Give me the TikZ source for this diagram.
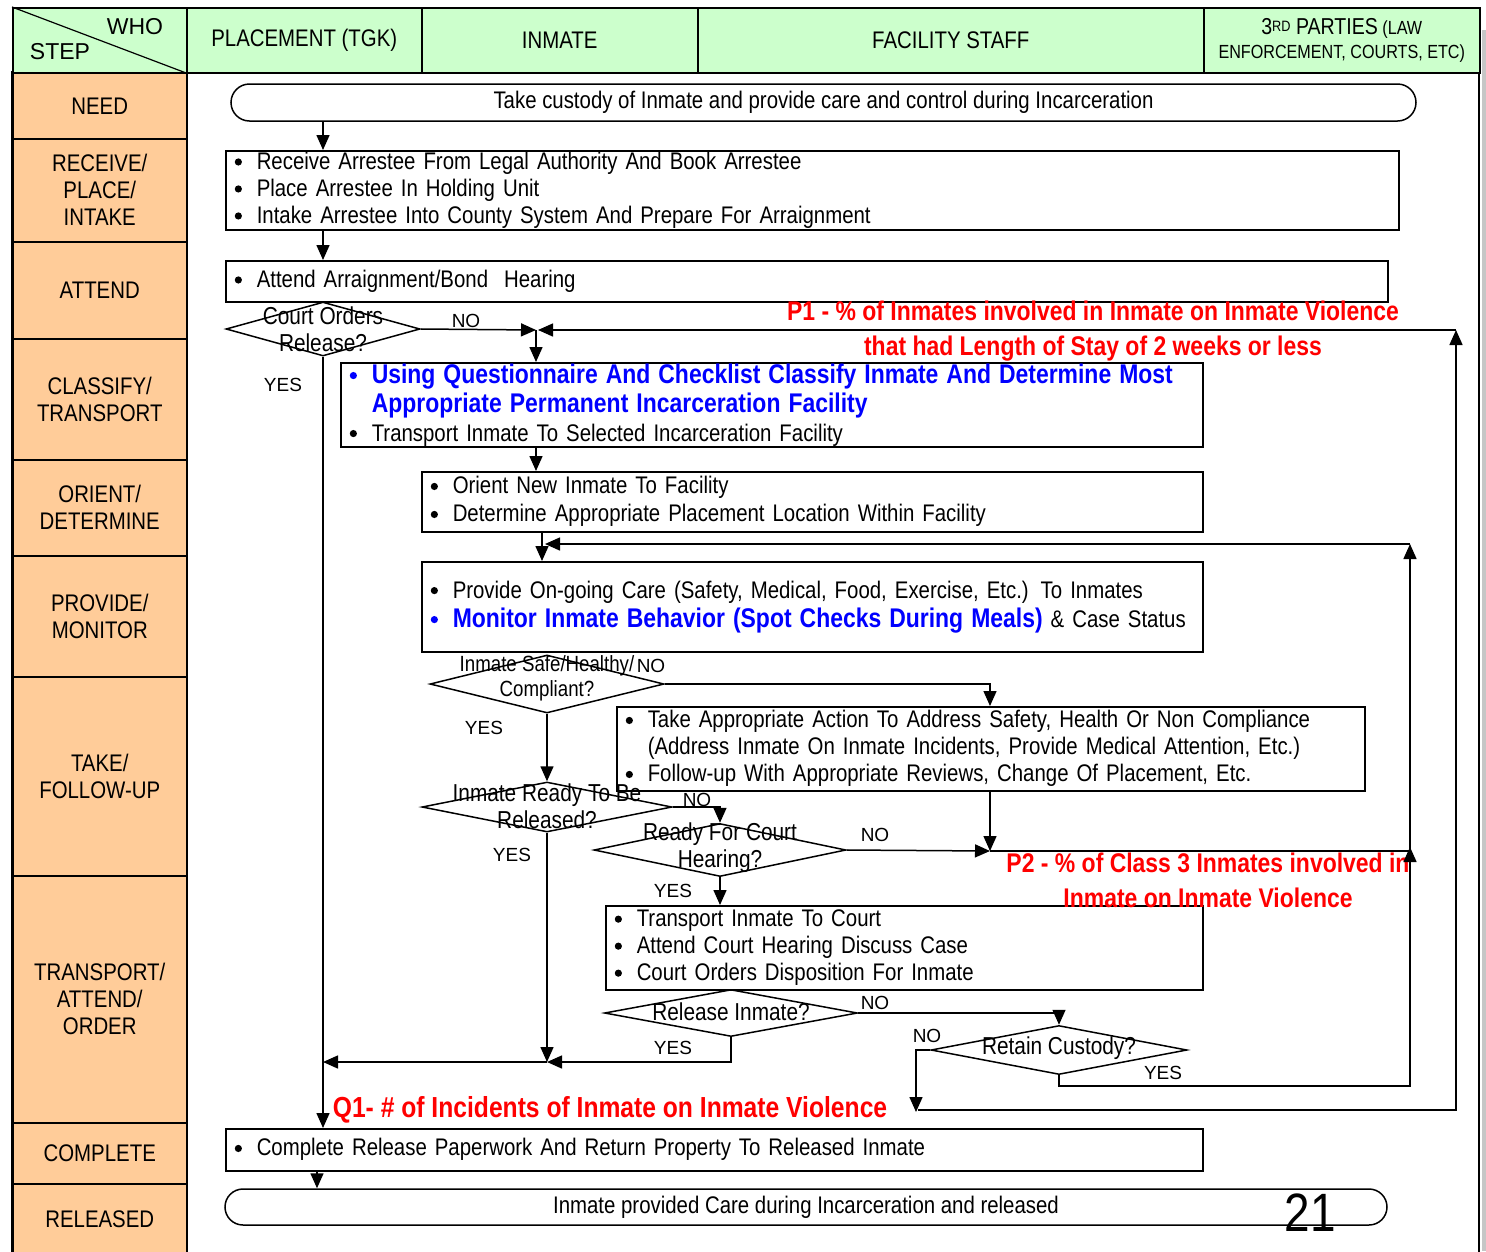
\documentclass[tikz,border=0pt]{standalone}
\usepackage{fontspec}
\setmainfont{Liberation Sans}[FakeStretch=0.85]
\newfontfamily\plainsf{Liberation Sans}
\usetikzlibrary{shapes.geometric, shapes.misc, arrows.meta, positioning}
\definecolor{hdrgreen}{HTML}{CCFFCC}
\definecolor{steporange}{HTML}{FFCC99}
\definecolor{pmred}{HTML}{FF0000}
\definecolor{pmblue}{HTML}{0000FF}
\tikzset{>={Triangle[length=15pt,width=13pt]}}
\newcommand{\bitem}{\makebox[22pt][l]{\tikz[baseline=-7.5pt]\fill (0,0) circle (3.6pt);}}
\newcommand{\bskip}{\hspace*{22pt}}
\newcommand{\txtsize}{\fontsize{24}{27}\selectfont}
\newcommand{\kpisize}{\fontsize{27}{35}\selectfont\bfseries}
\tikzset{
  hdrcell/.style={draw, line width=1.5pt, fill=hdrgreen, minimum height=65, anchor=north west, inner sep=0pt, align=center, font=\fontsize{24}{26}\selectfont},
  stepcell/.style={draw, line width=1.5pt, fill=steporange, minimum width=174, anchor=north west, inner sep=0pt, align=center, font=\fontsize{24}{27}\selectfont},
  taskbox/.style n args={2}{draw, line width=1.5pt, anchor=north west, inner xsep=9pt, inner ysep=0pt, align=left, font=\txtsize, minimum width=#1, text width={#1pt-18pt}, minimum height=#2},
  endcap/.style={draw, line width=1.5pt, rounded rectangle, inner sep=0pt, font=\txtsize},
  decide/.style={draw, line width=1.5pt, diamond, inner sep=0pt},
  dtext/.style={align=center, inner sep=0pt, font=\fontsize{24.5}{27}\selectfont},
  yesno/.style={inner sep=0pt, font=\plainsf\fontsize{19}{19}\selectfont},
  kpi/.style={inner sep=0pt, align=center, text=pmred, font=\kpisize},
  flow/.style={line width=1.5pt}
}

\begin{document}
\begin{tikzpicture}[x=1pt, y=-1pt]
	\useasboundingbox (0,0) rectangle (1486,1251);
	% frame and shadow
	\fill[gray!45] (1482,30) rectangle (1486,1251);
	\draw[line width=1.5pt] (12,72) rectangle (1479,1262);
	% header row
	\node[hdrcell, minimum width=174] (corner) at (12,7) {};
	\draw[line width=1.2pt] (corner.north west) -- (corner.south east);
	\node[inner sep=0pt, font=\plainsf\fontsize{23}{23}\selectfont] (who) at (135,27) {WHO};
	\node[inner sep=0pt, font=\plainsf\fontsize{23}{23}\selectfont] (step) at (60,52) {STEP};
	\node[hdrcell, minimum width=235] (hplace) at (186,7) {PLACEMENT (TGK)};
	\node[hdrcell, minimum width=276] (hinmate) at (421,7) {INMATE};
	\node[hdrcell, minimum width=506] (hstaff) at (697,7) {FACILITY STAFF};
	\node[hdrcell, minimum width=276, font=\fontsize{19}{24}\selectfont] (hthird) at (1203,7) {{\fontsize{23}{24}\selectfont 3{\fontsize{15}{15}\selectfont\raisebox{3pt}{RD}} PARTIES} (LAW\\ENFORCEMENT, COURTS, ETC)};
	% step column
	\node[stepcell, minimum height=66] (sneed) at (12,72) {NEED};
	\node[stepcell, minimum height=103] (sreceive) at (12,138) {RECEIVE/\\PLACE/\\INTAKE};
	\node[stepcell, minimum height=97] (sattend) at (12,241) {ATTEND};
	\node[stepcell, minimum height=121] (sclassify) at (12,338) {CLASSIFY/\\TRANSPORT};
	\node[stepcell, minimum height=96] (sorient) at (12,459) {ORIENT/\\DETERMINE};
	\node[stepcell, minimum height=121] (sprovide) at (12,555) {PROVIDE/\\MONITOR};
	\node[stepcell, minimum height=199] (stake) at (12,676) {TAKE/\\FOLLOW-UP};
	\node[stepcell, minimum height=247] (stransport) at (12,875) {TRANSPORT/\\ATTEND/\\ORDER};
	\node[stepcell, minimum height=61] (scomplete) at (12,1122) {COMPLETE};
	\node[stepcell, minimum height=70] (sreleased) at (12,1183) {RELEASED};
	% tasks
	\node[endcap, minimum width=1185, minimum height=37] (start) at (823.5,102.5) {Take custody of Inmate and provide care and control during Incarceration};
	\node[taskbox={1173}{79}] (recv) at (225,150) {\bitem Receive Arrestee From Legal Authority And Book Arrestee\\\bitem Place Arrestee In Holding Unit\\\bitem Intake Arrestee Into County System And Prepare For Arraignment};
	\node[taskbox={1162}{41}] (attend) at (225,260) {\bitem Attend Arraignment/Bond\ \ Hearing};
	\node[decide, minimum width=194, minimum height=54] (cor) at (323,329) {};
	\node[dtext] (cor-t) at (cor.center) {Court Orders\\Release?};
	\node[taskbox={862}{84}, font=\fontsize{24}{29}\selectfont] (cls) at (340,362) {{\color{pmblue}\fontsize{27}{29}\selectfont\bfseries\bitem Using Questionnaire And Checklist Classify Inmate And Determine Most\\\bskip Appropriate Permanent Incarceration Facility}\\\bitem Transport Inmate To Selected Incarceration Facility};
	\node[taskbox={781}{60}, font=\fontsize{24}{28}\selectfont] (orient) at (421,471) {\bitem Orient New Inmate To Facility\\\bitem Determine Appropriate Placement Location Within Facility};
	\node[taskbox={781}{90}, font=\fontsize{24}{29}\selectfont] (prov) at (421,561) {\bitem Provide On-going Care (Safety, Medical, Food, Exercise, Etc.) To Inmates\\{\color{pmblue}\fontsize{27}{29}\selectfont\bfseries\bitem Monitor Inmate Behavior (Spot Checks During Meals)} \& Case Status};
	\node[decide, minimum width=234, minimum height=58] (safe) at (547,684) {};
	\node[dtext, font=\fontsize{22}{25}\selectfont] (safe-t) at (547,678) {Inmate Safe/Healthy/\\Compliant?};
	\node[taskbox={748}{84}] (take) at (616,706) {\bitem Take Appropriate Action To Address Safety, Health Or Non Compliance\\\bskip (Address Inmate On Inmate Incidents, Provide Medical Attention, Etc.)\\\bitem Follow-up With Appropriate Reviews, Change Of Placement, Etc.};
	\node[decide, minimum width=250, minimum height=50] (rdy) at (547,807) {};
	\node[dtext] (rdy-t) at (547,806) {Inmate Ready To Be\\Released?};
	\node[decide, minimum width=252, minimum height=53] (court) at (720,850) {};
	\node[dtext] (court-t) at (720,848) {Ready For Court\\Hearing?};
	\node[taskbox={597}{84}] (trans) at (605,905) {\bitem Transport Inmate To Court\\\bitem Attend Court Hearing Discuss Case\\\bitem Court Orders Disposition For Inmate};
	\node[decide, minimum width=253, minimum height=47] (rel) at (731,1013) {};
	\node[dtext] (rel-t) at (731,1012) {Release Inmate?};
	\node[decide, minimum width=256, minimum height=49] (retain) at (1059,1050) {};
	\node[dtext] (retain-t) at (1059,1048) {Retain Custody?};
	\node[taskbox={977}{42}] (done) at (225,1128) {\bitem Complete Release Paperwork And Return Property To Released Inmate};
	\node[endcap, minimum width=1162, minimum height=36] (finish) at (806,1207) {Inmate provided Care during Incarceration and released};
	\node[inner sep=0pt, font=\fontsize{54}{54}\selectfont] (pgno) at (1310,1213) {21};
	% measures
	\node[kpi] (p1) at (1093,331) {P1 - \% of Inmates involved in Inmate on Inmate Violence\\that had Length of Stay of 2 weeks or less};
	\node[kpi] (p2) at (1208,880) {P2 - \% of Class 3 Inmates involved in\\Inmate on Inmate Violence};
	\node[kpi, font=\fontsize{29}{35}\selectfont\bfseries] (q1) at (610,1110) {Q1- \# of Incidents of Inmate on Inmate Violence};
	% junctions
	\coordinate (join1) at (536,330);
	\coordinate (join2) at (542,544);
	\coordinate (join3) at (990,851);
	\coordinate (join4) at (547,1062);
	\coordinate (loopA) at (1456,1110);
	\coordinate (loopB) at (1410,1086);
	\coordinate (ret0) at (916,1110);
	% connectors
	\draw[flow, ->] (start.south -| cor) -- (recv.north -| cor);
	\draw[flow, ->] (recv.south -| cor) -- (attend.north -| cor);
	\draw[flow, ->] (cor.east) -- (join1);
	\draw[flow, ->] (join1) -- (cls.north -| join1);
	\draw[flow, ->] (cls.south -| join1) -- (orient.north -| join1);
	\draw[flow, ->] (orient.south -| join2) -- (prov.north -| join2);
	\draw[flow, ->] (safe.east) -| (take.north -| join3);
	\draw[flow, ->] (take.south -| join3) -- (join3);
	\draw[flow, ->] (safe.south) -- (rdy.north);
	\draw[flow, ->] (rdy.east) -| (court.north);
	\draw[flow, ->] (court.east) -- (join3);
	\draw[flow, ->] (join3) -| (loopB |- join2);
	\draw[flow, ->] (loopB |- join2) -- ([xshift=3]join2);
	\draw[flow, ->] (court.south) -- (trans.north -| court);
	\draw[flow, ->] (rel.east) -| (retain.north);
	\draw[flow, ->] (retain.south) |- (loopB) -- ([yshift=4]loopB |- join3);
	\draw[flow, ->] (retain.west) -| ([yshift=-2]ret0);
	\draw[flow, ->] ([xshift=2]ret0) -- (loopA) -- (loopA |- join1);
	\draw[flow, ->] (loopA |- join1) -- ([xshift=2]join1);
	\draw[flow, ->] (rdy.south) -- (join4);
	\draw[flow, ->] (rel.south) |- (join4);
	\draw[flow, ->] (join4) -- (join4 -| cor);
	\draw[flow, ->] (cor.south) -- (done.north -| cor);
	\draw[flow, ->] ([xshift=-6]done.south -| cor) -- ([xshift=-6]finish.north -| cor);
	% yes / no labels
	\node[yesno] (no1) at (466,321) {NO};
	\node[yesno] (yes1) at (283,385) {YES};
	\node[yesno] (no2) at (651,666) {NO};
	\node[yesno] (yes2) at (484,728) {YES};
	\node[yesno] (no3) at (697,800) {NO};
	\node[yesno] (yes3) at (512,855) {YES};
	\node[yesno] (no4) at (875,835) {NO};
	\node[yesno] (yes4) at (673,891) {YES};
	\node[yesno] (no5) at (875,1003) {NO};
	\node[yesno] (yes5) at (673,1048) {YES};
	\node[yesno] (no6) at (927,1036) {NO};
	\node[yesno] (yes6) at (1163,1073) {YES};
\end{tikzpicture}
\end{document}
